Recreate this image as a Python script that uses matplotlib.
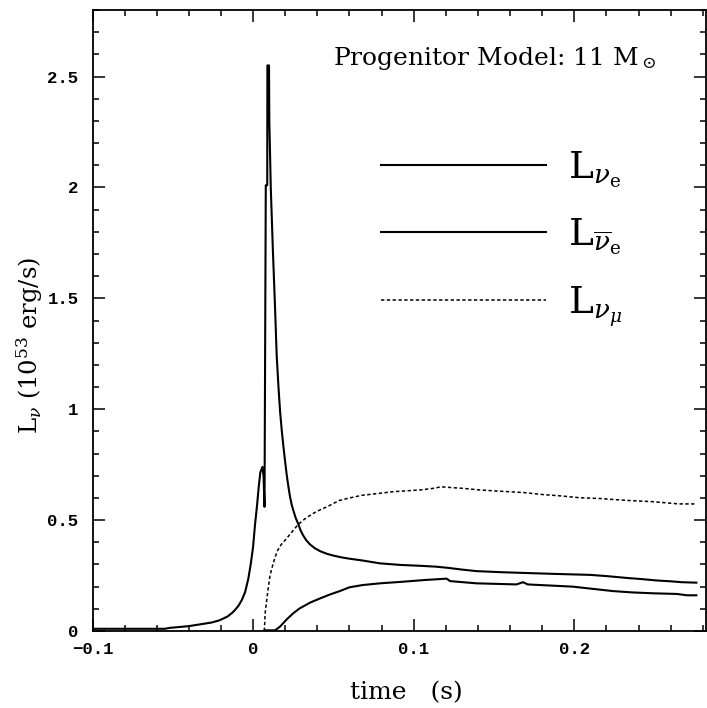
import matplotlib
matplotlib.use("Agg")
import matplotlib.pyplot as plt
from matplotlib.ticker import MultipleLocator

plt.rcParams['font.family'] = 'DejaVu Serif'
plt.rcParams['mathtext.fontset'] = 'dejavuserif'

# electron neutrino luminosity (10^53 erg/s) vs time (s)
t_nue = [-0.100, -0.055, -0.052, -0.040, -0.033, -0.026, -0.021, -0.016, -0.013, -0.011,
         -0.009, -0.007, -0.005, -0.003, -0.0015, 0.000, 0.0012, 0.0025, 0.0035, 0.0045,
         0.0058, 0.0065, 0.0071, 0.0079, 0.0088, 0.0089, 0.0099, 0.0101, 0.0110, 0.0123,
         0.0137, 0.0147, 0.0158, 0.0168, 0.0179, 0.0189, 0.0200, 0.0210, 0.0220, 0.0230,
         0.0240, 0.0250, 0.0265, 0.0280, 0.0295, 0.0310, 0.0330, 0.0355, 0.0385, 0.0417,
         0.0460, 0.0500, 0.0550, 0.0600, 0.0680, 0.0790, 0.0915, 0.1040, 0.1140, 0.1210,
         0.1300, 0.1390, 0.1550, 0.1720, 0.1900, 0.2100, 0.2210, 0.2330, 0.2420, 0.2510,
         0.2600, 0.2670, 0.2760]
L_nue = [0.010, 0.010, 0.014, 0.022, 0.030, 0.038, 0.048, 0.065, 0.082, 0.097,
         0.115, 0.14, 0.175, 0.235, 0.30, 0.38, 0.48, 0.57, 0.65, 0.715,
         0.74, 0.70, 0.56, 2.01, 2.01, 2.55, 2.55, 2.30, 2.0, 1.72,
         1.45, 1.24, 1.10, 0.99, 0.90, 0.83, 0.76, 0.70, 0.65, 0.605,
         0.57, 0.545, 0.51, 0.485, 0.455, 0.433, 0.41, 0.39, 0.373, 0.36,
         0.348, 0.34, 0.332, 0.326, 0.318, 0.305, 0.298, 0.294, 0.29, 0.285,
         0.277, 0.27, 0.265, 0.261, 0.257, 0.253, 0.247, 0.239, 0.234, 0.228,
         0.224, 0.22, 0.218]

# electron anti-neutrino
t_anue = [0.0070, 0.0137, 0.0168, 0.0210, 0.0250, 0.0290, 0.0355, 0.0417, 0.0480, 0.0540,
          0.0600, 0.0680, 0.0790, 0.0930, 0.1070, 0.1205, 0.1226, 0.1390, 0.1640, 0.1680,
          0.1710, 0.1990, 0.2115, 0.2240, 0.2360, 0.2490, 0.2640, 0.2700, 0.2760]
L_anue = [0.003, 0.003, 0.02, 0.053, 0.08, 0.102, 0.128, 0.147, 0.165, 0.18,
          0.197, 0.207, 0.215, 0.222, 0.23, 0.236, 0.225, 0.215, 0.21, 0.22,
          0.21, 0.2, 0.19, 0.18, 0.174, 0.17, 0.167, 0.161, 0.161]

# mu neutrino
t_numu = [0.0070, 0.0075, 0.0090, 0.0105, 0.0126, 0.0150, 0.0175, 0.0200, 0.0240, 0.0280,
          0.0330, 0.0390, 0.0460, 0.0535, 0.0600, 0.0680, 0.0790, 0.0870, 0.1040, 0.1120,
          0.1170, 0.1310, 0.1410, 0.1520, 0.1690, 0.1790, 0.1920, 0.2030, 0.2170, 0.2220,
          0.2350, 0.2490, 0.2650, 0.2750]
L_numu = [0.0, 0.08, 0.17, 0.25, 0.307, 0.36, 0.39, 0.41, 0.445, 0.48,
          0.51, 0.537, 0.56, 0.588, 0.60, 0.612, 0.621, 0.628, 0.636, 0.643,
          0.65, 0.643, 0.636, 0.631, 0.624, 0.616, 0.609, 0.601, 0.597, 0.594,
          0.588, 0.583, 0.573, 0.573]

labels = [r'L$_{\nu_{\rm e}}$', r'L$_{\overline{\nu}_{\rm e}}$', r'L$_{\nu_\mu}$']

fig = plt.figure(figsize=(7.07, 7.08), dpi=100)
ax = fig.add_axes([92.5/707, 77/708, 613.5/707, 621/708])

ax.plot(t_nue, L_nue, color='black', lw=1.5, label=labels[0])
ax.plot(t_anue, L_anue, color='black', lw=1.5, label=labels[1])
ax.plot(t_numu, L_numu, color='black', lw=1.1, ls=(0, (2.2, 1.6)), label=labels[2])

ax.set_xlim(-0.1, 0.282)
ax.set_ylim(0, 2.8)
ax.xaxis.set_major_locator(MultipleLocator(0.1))
ax.xaxis.set_minor_locator(MultipleLocator(0.02))
ax.yaxis.set_major_locator(MultipleLocator(0.5))
ax.yaxis.set_minor_locator(MultipleLocator(0.1))
ax.xaxis.set_major_formatter(plt.FuncFormatter(lambda v, p: '0' if abs(v) < 1e-9 else ('\u2212%g' % -v if v < 0 else '%g' % v)))
ax.yaxis.set_major_formatter(plt.FuncFormatter(lambda v, p: '%g' % v))
ax.tick_params(which='both', direction='in', top=True, right=True, width=1.1)
ax.tick_params(which='major', length=8.5)
ax.tick_params(which='minor', length=4.5)
ax.tick_params(axis='both', labelsize=12.5)
ax.tick_params(axis='y', pad=10)
ax.tick_params(axis='x', pad=8)
for lab in ax.get_xticklabels() + ax.get_yticklabels():
    lab.set_family('Liberation Mono')
    lab.set_weight('bold')
for s in ax.spines.values():
    s.set_linewidth(1.3)

leg = ax.legend(loc='upper left', bbox_to_anchor=(0.47, 0.775), frameon=False,
                fontsize=27, handlelength=4.4, handletextpad=0.6, labelspacing=0.72,
                borderaxespad=0, borderpad=0)

fig.text(333/707, 1 - 58/708, r'Progenitor Model: 11 M$_\odot$', fontsize=18, ha='left', va='center')
fig.text(406/707, 1 - 693/708, 'time   (s)', fontsize=18, ha='center', va='center')
fig.text(30/707, 1 - 345/708, r'L$_\nu$ (10$^{53}$ erg/s)', fontsize=17.5, ha='center', va='center', rotation=90)

fig.savefig('out.png', dpi=100)
